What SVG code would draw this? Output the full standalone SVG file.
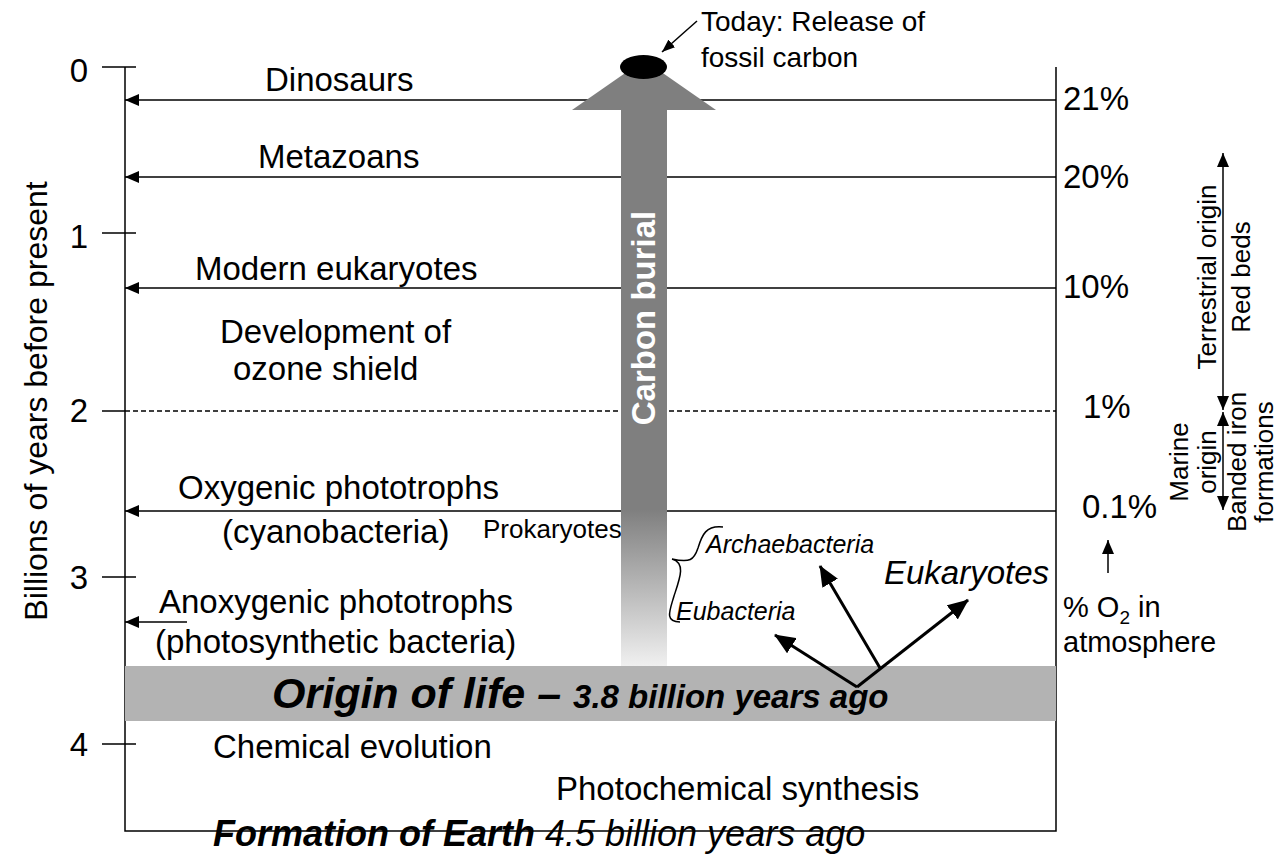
<svg xmlns="http://www.w3.org/2000/svg" width="1282" height="855" viewBox="0 0 1282 855">
<defs>
<style>
text{font-family:"Liberation Sans",Arial,sans-serif;fill:#000}
.t33{font-size:33px}
.t26{font-size:26px}
.ln{stroke:#000;stroke-width:1.5;fill:none}
.thick{stroke:#000;stroke-width:3;fill:none}
.it{font-style:italic}
.bi{font-style:italic;font-weight:bold}
</style>
<marker id="ah" markerUnits="userSpaceOnUse" markerWidth="14" markerHeight="12" refX="14" refY="6" orient="auto-start-reverse"><path d="M0,0 L14,6 L0,12 Z" fill="#000"/></marker>
<marker id="ahs" markerUnits="userSpaceOnUse" markerWidth="13" markerHeight="10" refX="13" refY="5" orient="auto"><path d="M0,0 L13,5 L0,10 Z" fill="#000"/></marker>
<marker id="ahb" markerUnits="userSpaceOnUse" markerWidth="21" markerHeight="18" refX="20" refY="9" orient="auto"><path d="M0,0 L21,9 L0,18 Z" fill="#000"/></marker>
<linearGradient id="shaftGrad" gradientUnits="userSpaceOnUse" x1="0" y1="108" x2="0" y2="666">
<stop offset="0" stop-color="#7f7f7f"/>
<stop offset="0.72" stop-color="#7f7f7f"/>
<stop offset="1" stop-color="#f0f0f0"/>
</linearGradient>
</defs>
<rect width="1282" height="855" fill="#fff"/>

<g id="axes">
<path class="ln" d="M125,67 V831 H1056 V67"/>
<path class="ln" d="M102,67 H136 M102,233 H136 M102,411 H125 M102,577 H136 M102,744 H136"/>
<path d="M125,411 H1056" stroke="#000" stroke-width="1.5" stroke-dasharray="5,3" fill="none"/>
<text class="t33" x="88" y="82" text-anchor="end">0</text>
<text class="t33" x="88" y="248" text-anchor="end">1</text>
<text class="t33" x="88" y="422" text-anchor="end">2</text>
<text class="t33" x="88" y="589" text-anchor="end">3</text>
<text class="t33" x="88" y="756" text-anchor="end">4</text>
<text style="font-size:32px" text-anchor="middle" transform="translate(47,401) rotate(-90)">Billions of years before present</text>
</g>

<g id="connectors">
<path class="ln" d="M1056,100 H125" marker-end="url(#ah)"/>
<path class="ln" d="M1056,177 H125" marker-end="url(#ah)"/>
<path class="ln" d="M1056,288 H125" marker-end="url(#ah)"/>
<path class="ln" d="M1056,511 H125" marker-end="url(#ah)"/>
<path class="ln" d="M187,622 H125" marker-end="url(#ah)"/>
<path class="ln" d="M1223,153 V410" marker-start="url(#ah)" marker-end="url(#ah)"/>
<path class="ln" d="M1223,412 V510" marker-start="url(#ah)" marker-end="url(#ah)"/>
<path class="ln" d="M1108,573 V540" marker-end="url(#ah)"/>
<path class="ln" d="M697,21 L662,52" marker-end="url(#ahs)"/>
</g>

<g id="dinosaurs"><text class="t33" x="265" y="91">Dinosaurs</text></g>
<g id="metazoans"><text class="t33" x="258" y="168">Metazoans</text></g>
<g id="modern-eukaryotes"><text class="t33" x="195" y="280">Modern eukaryotes</text></g>
<g id="ozone"><text class="t33" x="220" y="343">Development of</text><text class="t33" x="233" y="380">ozone shield</text></g>
<g id="oxygenic"><text class="t33" x="178" y="499">Oxygenic phototrophs</text><text class="t33" x="222" y="543">(cyanobacteria)</text></g>
<g id="prokaryotes"><text style="font-size:26px" x="483" y="538">Prokaryotes</text></g>
<g id="anoxygenic"><text class="t33" x="159" y="613">Anoxygenic phototrophs</text><text class="t33" x="155" y="653">(photosynthetic bacteria)</text></g>
<g id="chemical-evolution"><text class="t33" x="213" y="758">Chemical evolution</text></g>
<g id="photochemical"><text class="t33" x="556" y="800">Photochemical synthesis</text></g>
<g id="formation"><text style="font-size:36px" x="213" y="846"><tspan class="bi">Formation of Earth</tspan><tspan class="it"> 4.5 billion years ago</tspan></text></g>

<g id="percent-labels">
<text class="t33" x="1063" y="110">21%</text>
<text class="t33" x="1063" y="188">20%</text>
<text class="t33" x="1063" y="298">10%</text>
<text class="t33" x="1083" y="418">1%</text>
<text class="t33" x="1082" y="518">0.1%</text>
</g>
<g id="o2-label"><text style="font-size:29px" x="1063" y="617">% O<tspan style="font-size:19px" dy="7">2</tspan><tspan dy="-7"> in</tspan></text><text style="font-size:29px" x="1063" y="652">atmosphere</text></g>
<g id="terrestrial"><text class="t26" text-anchor="middle" transform="translate(1216,277) rotate(-90)">Terrestrial origin</text><text class="t26" text-anchor="middle" transform="translate(1250,277) rotate(-90)">Red beds</text></g>
<g id="marine"><text class="t26" text-anchor="middle" transform="translate(1188,462) rotate(-90)">Marine</text><text class="t26" text-anchor="middle" transform="translate(1216,462) rotate(-90)">origin</text><text class="t26" text-anchor="middle" transform="translate(1246,462) rotate(-90)">Banded iron</text><text class="t26" text-anchor="middle" transform="translate(1273,462) rotate(-90)">formations</text></g>

<g id="carbon-burial">
<rect x="621" y="106" width="46" height="560" fill="url(#shaftGrad)"/>
<path d="M572,110 L716,110 L644,60 Z" fill="#7f7f7f"/>
<text style="font-size:33px;font-weight:bold;fill:#fff" text-anchor="middle" transform="translate(655,318) rotate(-90)">Carbon burial</text>
</g>
<g id="fossil-carbon">
<ellipse cx="643.5" cy="67" rx="23.5" ry="12" fill="#000"/>
<text style="font-size:28px" x="701" y="31">Today: Release of</text>
<text style="font-size:28px" x="701" y="67">fossil carbon</text>
</g>

<g id="origin-of-life">
<rect x="125" y="666" width="931" height="55" fill="#b3b3b3"/>
<text class="bi" x="272" y="708"><tspan style="font-size:43px">Origin of life – </tspan><tspan style="font-size:33px">3.8 billion years ago</tspan></text>
</g>

<g id="bacteria">
<path d="M723,527 C706,525 702,535 698,548 C694,560 690,563 672,559 C686,563 680,578 674,596 C670,610 664,622 680,622" stroke="#000" stroke-width="1.5" fill="none"/>
<text class="it" style="font-size:25px" x="706" y="553">Archaebacteria</text>
<text class="it" style="font-size:25px" x="676" y="620">Eubacteria</text>
<text class="it" style="font-size:33px" x="884" y="584">Eukaryotes</text>
<path class="thick" d="M857,687 L775,635" marker-end="url(#ahb)"/>
<path class="thick" d="M880,668 L820,566" marker-end="url(#ahb)"/>
<path class="thick" d="M857,687 L968,600" marker-end="url(#ahb)"/>
</g>
</svg>
